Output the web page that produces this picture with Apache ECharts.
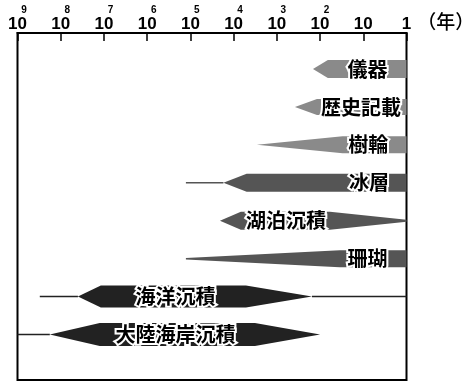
<!DOCTYPE html>
<html>
<head>
<meta charset="utf-8">
<script src="https://cdn.jsdelivr.net/npm/echarts@6/dist/echarts.min.js"></script>
<style>
html,body{margin:0;padding:0;background:#fff;}
#chart{width:467px;height:382px;}
</style>
</head>
<body>
<div id="chart"></div>
<script>
// ---- data (years before present) ----
const categories = ['儀器', '歴史記載', '樹輪', '冰層', '湖泊沉積', '珊瑚', '海洋沉積', '大陸海岸沉積'];
// thin line (left) start
const lineFrom = [null, null, null, 127000, null, null, 3.05e8, 1e9];
// arrow tip (left)
const tipFrom = [146, 381, 2890, 17200, 20700, 127000, 4.0e7, 1.79e8];
// full width reached
const fullFrom = [66, 118, 30, 5000, 6800, 35, 1.18e7, 1.25e7];
// full width ends
const fullTo = [1, 1, 1, 1, 59, 1, 5190, 3210];
// right tip
const tipTo = [1, 1, 1, 1, 1, 1, 154, 100];
// thin line (right) end
const lineTo = [null, null, null, null, null, null, 1, null];
// label anchor (years)
const labelAt = [8, 11.3, 7.7, 7.4, 615, 8, 2.2e5, 2.2e5];

// axis tick labels
const tickValues = [1, 10, 1e2, 1e3, 1e4, 1e5, 1e6, 1e7, 1e8, 1e9];
const tickBase = ['1', '10', '10', '10', '10', '10', '10', '10', '10', '10'];
const tickSup = ['', '', '2', '3', '4', '5', '6', '7', '8', '9'];
const unitLabel = '（年）';

// ---- styles ----
const colors = ['#8a8a8a', '#8a8a8a', '#8a8a8a', '#555555', '#555555', '#555555', '#222222', '#222222'];
const bandPx = [18, 16, 17, 18, 18, 17, 22, 23];
const tipLeftPx = [0, 0, 0, 0, 0, 1.5, 0, 0];
const tipRightPx = [0, 0, 0, 0, 2, 0, 0, 0];

const chart = echarts.init(document.getElementById('chart'));

function renderItem(params, api) {
  const i = params.dataIndex;
  const row = api.value(1);
  const X = v => api.coord([v, row])[0];
  const cy = api.coord([1, row])[1];
  const h = bandPx[i] / 2;
  const col = colors[i];
  const children = [];
  if (lineFrom[i] != null) {
    children.push({type: 'line', shape: {x1: X(lineFrom[i]), y1: cy, x2: X(tipFrom[i]), y2: cy},
      style: {stroke: col, lineWidth: 1.5}});
  }
  if (lineTo[i] != null) {
    children.push({type: 'line', shape: {x1: X(tipTo[i]), y1: cy, x2: X(lineTo[i]), y2: cy},
      style: {stroke: col, lineWidth: 1.5}});
  }
  const tl = tipLeftPx[i] / 2, tr = tipRightPx[i] / 2;
  const pts = [
    [X(tipFrom[i]), cy - tl],
    [X(fullFrom[i]), cy - h],
    [X(fullTo[i]), cy - h],
    [X(tipTo[i]), cy - tr],
    [X(tipTo[i]), cy + tr],
    [X(fullTo[i]), cy + h],
    [X(fullFrom[i]), cy + h],
    [X(tipFrom[i]), cy + tl]
  ];
  children.push({type: 'polygon', shape: {points: pts}, style: {fill: col}});
  children.push({type: 'text', x: X(labelAt[i]), y: cy,
    style: {text: categories[i], fill: '#000', stroke: '#fff', lineWidth: 4,
      fontSize: 20, fontWeight: 'bold', fontFamily: '"Noto Sans CJK JP"',
      align: 'center', verticalAlign: 'middle'}});
  return {type: 'group', children: children};
}

const option = {
  animation: false,
  grid: {left: 17.5, right: 60.5, top: 33, bottom: 2, show: true, borderColor: '#000', borderWidth: 2,
    backgroundColor: 'transparent', containLabel: false, outerBoundsMode: 'none'},
  xAxis: {
    type: 'log', logBase: 10, min: 1, max: 1e9, interval: 1, inverse: true, position: 'top',
    axisLine: {show: true, lineStyle: {color: '#000', width: 2}},
    axisTick: {show: true, inside: true, length: 8, lineStyle: {color: '#000', width: 1.5}},
    splitLine: {show: false},
    axisLabel: {
      margin: 1, showMinLabel: true, showMaxLabel: true, hideOverlap: false,
      formatter: function (v) {
        const k = tickValues.findIndex(t => Math.abs(Math.log10(t) - Math.log10(v)) < 1e-6);
        if (k < 0) return '';
        if (tickSup[k]) return '{e|' + tickSup[k] + '}\n{b|' + tickBase[k] + '}';
        return '{b|' + tickBase[k] + '}';
      },
      rich: {
        e: {fontSize: 10, fontWeight: 'bold', fontFamily: '"Liberation Sans"', color: '#000', lineHeight: 12, padding: [0, 0, 0, 13]},
        b: {fontSize: 17, fontWeight: 'bold', fontFamily: '"Liberation Sans"', color: '#000', lineHeight: 16}
      }
    },
    name: unitLabel, nameLocation: 'start', nameGap: 5,
    nameTextStyle: {fontSize: 19, fontFamily: '"Noto Sans CJK JP"', fontWeight: 500, color: '#000', verticalAlign: 'bottom', align: 'left', lineHeight: 22}
  },
  yAxis: {type: 'value', min: 0.05, max: 9.2, inverse: true, show: false},
  series: [{
    type: 'custom',
    renderItem: renderItem,
    data: categories.map((c, i) => [tipFrom[i], i + 1]),
    clip: false
  }]
};
chart.setOption(option);
</script>
</body>
</html>
